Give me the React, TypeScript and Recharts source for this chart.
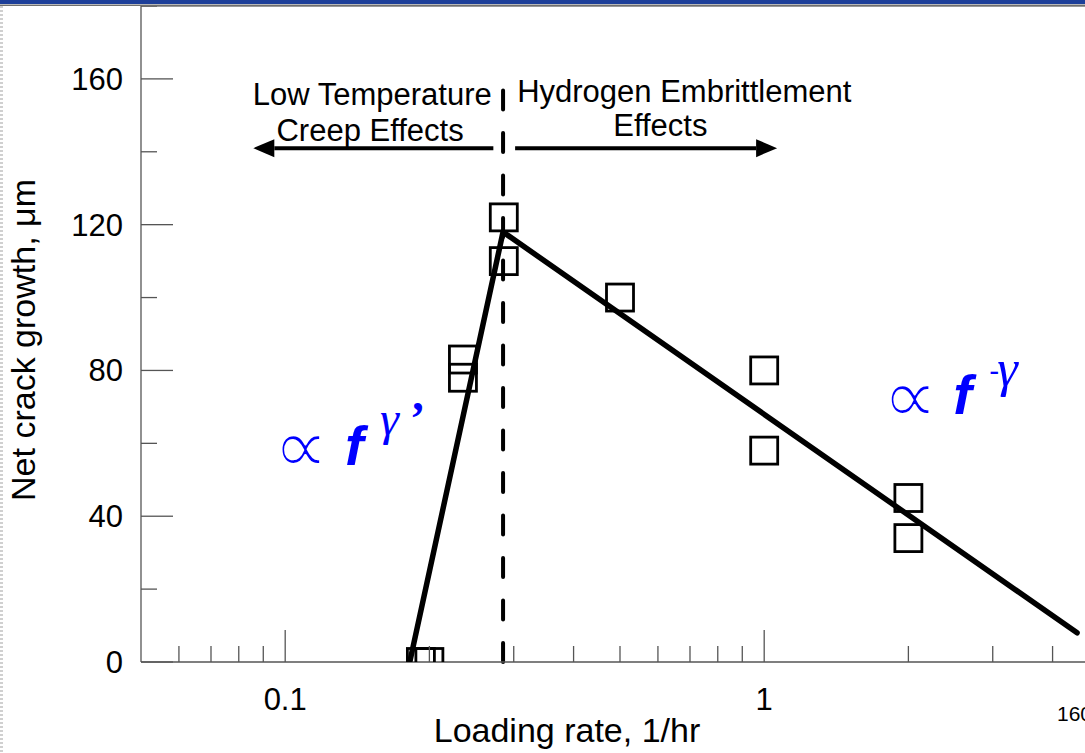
import React from 'react';
import { ComposedChart, Scatter, XAxis, YAxis, ReferenceLine, ReferenceDot } from 'recharts';

// ---- data ----
const loadingRate = [0.192, 0.2, 0.235, 0.235, 0.286, 0.286, 0.5, 1.0, 1.0, 2.0, 2.0];
const crackGrowth = [0, 0, 83, 78, 122, 110, 100, 80, 58, 45, 34];

const fitRate = [0.182, 0.285, 4.5];
const fitGrowth = [0, 118, 8];

const xTickValues = [0.06, 0.07, 0.08, 0.09, 0.1, 0.2, 0.3, 0.4, 0.5, 0.6, 0.7, 0.8, 0.9, 1, 2, 3, 4];
const xTickLabelValues = [0.1, 1];
const yTickValues = [0, 20, 40, 60, 80, 100, 120, 140, 160, 180];
const yTickLabelValues = [0, 40, 80, 120, 160];

const boundaryRate = 0.285;
const boundaryTop = 158.5;
const arrowGrowth = 141;
const leftArrowRates = [0.272, 0.0858];
const rightArrowRates = [0.302, 1.064];

const regionTexts = ['Low Temperature', 'Creep Effects', 'Hydrogen Embrittlement', 'Effects'];
const regionTextRates = [0.152, 0.1504, 0.681, 0.607];
const regionTextGrowth = [152.9, 143.0, 153.7, 144.3];

const formulaRates = [0.098, 1.833];
const formulaGrowth = [54.6, 68.6];

const pointData = loadingRate.map((x, i) => ({ x, y: crackGrowth[i] }));
const fitData = fitRate.map((x, i) => ({ x, y: fitGrowth[i] }));

const FONT = 'Liberation Sans, Arial, sans-serif';
const BLUE = '#0000ff';

const Square = (props: any) => {
  const { cx, cy } = props;
  if (cx == null || cy == null) return <g />;
  const s = 27;
  return <rect x={cx - s / 2} y={cy - s / 2} width={s} height={s} fill="none" stroke="#000" strokeWidth={2.8} />;
};

const NoShape = () => <g />;

const YTick = (props: any) => {
  const { x, y, payload } = props;
  const v = payload.value;
  const major = yTickLabelValues.includes(v);
  return (
    <g>
      <line x1={x} y1={y} x2={x + (major ? 32 : 16)} y2={y} stroke="#555" strokeWidth={1.3} />
      {major && (
        <text x={x - 18} y={y} dy={11} textAnchor="end" fontSize={31} fontFamily={FONT} fill="#000">
          {v}
        </text>
      )}
    </g>
  );
};

const XTick = (props: any) => {
  const { x, y, payload } = props;
  const v = payload.value;
  const major = xTickLabelValues.includes(v);
  return (
    <g>
      <line x1={x} y1={y} x2={x} y2={y - (major ? 32 : 16)} stroke="#555" strokeWidth={1.3} />
      {major && (
        <text x={x} y={y + 48} textAnchor="middle" fontSize={31} fontFamily={FONT} fill="#000">
          {v}
        </text>
      )}
    </g>
  );
};

const Arrow = (props: any) => {
  const { x1, y1, x2, y2 } = props;
  const dir = x2 > x1 ? 1 : -1;
  const headLen = 21;
  const half = 9;
  return (
    <g>
      <line x1={x1} y1={y1} x2={x2 - dir * headLen} y2={y2} stroke="#000" strokeWidth={4} />
      <polygon
        points={`${x2},${y2} ${x2 - dir * headLen},${y2 - half} ${x2 - dir * headLen},${y2 + half}`}
        fill="#000"
      />
    </g>
  );
};

const makeRegionText = (text: string) => (props: any) => {
  const { cx, cy } = props;
  return (
    <text x={cx} y={cy} textAnchor="middle" fontSize={31} fontFamily={FONT} fill="#000">
      {text}
    </text>
  );
};

const Propto = ({ x, y }: { x: number; y: number }) => (
  <text
    x={x}
    y={y}
    fontSize={78}
    fontFamily="DejaVu Sans, sans-serif"
    fill={BLUE}
    stroke="#fff"
    strokeWidth={2.3}
    strokeLinejoin="round"
  >
    ∝
  </text>
);

const LeftFormula = (props: any) => {
  const { cx, cy } = props;
  return (
    <g fill={BLUE}>
      <Propto x={cx - 8} y={cy + 10} />
      <text x={cx + 64} y={cy + 2} fontSize={56} fontWeight="bold" fontStyle="italic" fontFamily={FONT}>f</text>
      <text x={cx + 99} y={cy - 28} fontSize={48} fontStyle="italic" fontFamily="Liberation Serif, serif">γ</text>
      <text x={cx + 129} y={cy - 29} fontSize={46} fontWeight="bold" fontFamily="Liberation Serif, serif">’</text>
    </g>
  );
};

const RightFormula = (props: any) => {
  const { cx, cy } = props;
  return (
    <g fill={BLUE}>
      <Propto x={cx - 8} y={cy + 11} />
      <text x={cx + 63} y={cy + 2} fontSize={56} fontWeight="bold" fontStyle="italic" fontFamily={FONT}>f</text>
      <text x={cx + 99} y={cy - 31} fontSize={30} fontFamily={FONT}>-</text>
      <text x={cx + 107} y={cy - 26} fontSize={52} fontStyle="italic" fontFamily="Liberation Serif, serif">γ</text>
    </g>
  );
};

const YTitle = (props: any) => {
  const vb = props.viewBox || { x: 0, y: 0, width: 141, height: 656 };
  const cx = vb.x + 35;
  const cy = vb.y + vb.height / 2 + 6;
  return (
    <text x={cx} y={cy} transform={`rotate(-90, ${cx}, ${cy})`} textAnchor="middle" fontSize={34} fontFamily={FONT} fill="#000">
      Net crack growth, μm
    </text>
  );
};

const XTitle = (props: any) => {
  const vb = props.viewBox || { x: 141, y: 662, width: 958, height: 91 };
  const cx = vb.x + 426;
  const cy = vb.y + 80;
  return (
    <text x={cx} y={cy} textAnchor="middle" fontSize={34} fontFamily={FONT} fill="#000">
      Loading rate, 1/hr
    </text>
  );
};

export default function App() {
  return (
    <div
      style={{
        position: 'fixed',
        left: 0,
        top: 0,
        width: 1085,
        height: 753,
        overflow: 'hidden',
        background: '#fff',
        fontFamily: FONT,
      }}
    >
      <ComposedChart
        width={1110}
        height={753}
        margin={{ top: 6, right: 11, bottom: 0, left: 0 }}
        style={{ position: 'absolute', left: 0, top: 0 }}
      >
        <XAxis
          dataKey="x"
          type="number"
          scale="log"
          domain={[0.05, 5]}
          allowDataOverflow
          ticks={xTickValues}
          interval={0}
          tick={<XTick />}
          tickLine={false}
          tickSize={0}
          tickMargin={0}
          height={91}
          axisLine={{ stroke: '#555', strokeWidth: 1.3 }}
          label={<XTitle />}
        />
        <YAxis
          dataKey="y"
          type="number"
          domain={[0, 180]}
          allowDataOverflow
          ticks={yTickValues}
          interval={0}
          tick={<YTick />}
          tickLine={false}
          tickSize={0}
          tickMargin={0}
          width={141}
          axisLine={{ stroke: '#555', strokeWidth: 1.3 }}
          label={<YTitle />}
        />
        <ReferenceLine y={180} stroke="#777" strokeWidth={1.3} />
        <ReferenceLine
          segment={[
            { x: boundaryRate, y: 0 },
            { x: boundaryRate, y: boundaryTop },
          ]}
          stroke="#000"
          strokeWidth={4}
          strokeDasharray="19 23.5"
          strokeLinecap="round"
        />
        <ReferenceLine
          segment={[
            { x: leftArrowRates[0], y: arrowGrowth },
            { x: leftArrowRates[1], y: arrowGrowth },
          ]}
          shape={<Arrow />}
        />
        <ReferenceLine
          segment={[
            { x: rightArrowRates[0], y: arrowGrowth },
            { x: rightArrowRates[1], y: arrowGrowth },
          ]}
          shape={<Arrow />}
        />
        {regionTexts.map((t, i) => (
          <ReferenceDot
            key={t}
            x={regionTextRates[i]}
            y={regionTextGrowth[i]}
            r={0}
            shape={makeRegionText(t)}
          />
        ))}
        <ReferenceDot x={formulaRates[0]} y={formulaGrowth[0]} r={0} shape={<LeftFormula />} />
        <ReferenceDot x={formulaRates[1]} y={formulaGrowth[1]} r={0} shape={<RightFormula />} />
        <Scatter
          data={fitData}
          line={{ stroke: '#000', strokeWidth: 5.5, strokeLinecap: 'round', strokeLinejoin: 'round' }}
          shape={<NoShape />}
          isAnimationActive={false}
        />
        <Scatter data={pointData} shape={<Square />} isAnimationActive={false} />
      </ComposedChart>
      <div style={{ position: 'absolute', left: 0, top: 0, width: 1085, height: 4, background: '#1d3f99' }} />
      <div style={{ position: 'absolute', left: 0, top: 4, width: 1085, height: 1, background: '#b8b8b8' }} />
      <div style={{ position: 'absolute', left: 0, top: 5, width: 1085, height: 1, background: '#6e6e6e' }} />
      <div
        style={{
          position: 'absolute',
          left: 0,
          top: 6,
          width: 3,
          height: 747,
          background: 'repeating-linear-gradient(to bottom, #d0d0d0 0px, #d0d0d0 2px, transparent 2px, transparent 4px)',
        }}
      />
      <svg style={{ position: 'absolute', left: 1040, top: 690 }} width={45} height={40}>
        <text x={17} y={31} fontSize={21} fontFamily={FONT} fill="#000">160</text>
      </svg>
    </div>
  );
}
